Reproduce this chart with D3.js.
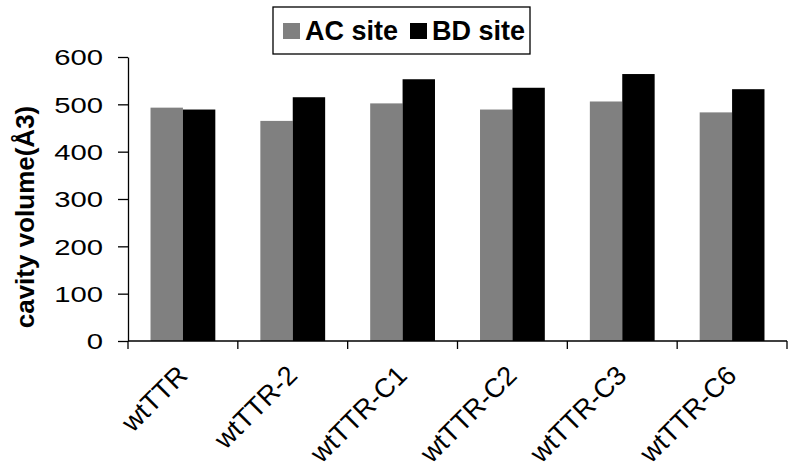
<!DOCTYPE html>
<html>
<head>
<meta charset="utf-8">
<script src="https://cdn.jsdelivr.net/npm/d3@7"></script>
<style>
  body { margin: 0; background: #fff; }
  #chart text { font-family: "Liberation Sans", Arial, sans-serif; fill: #000; }
</style>
</head>
<body>
<div id="chart"></div>
<script>
var categories = ["wtTTR", "wtTTR-2", "wtTTR-C1", "wtTTR-C2", "wtTTR-C3", "wtTTR-C6"];
var seriesNames = ["AC site", "BD site"];
var acSite = [493, 465, 502, 489, 506, 483];
var bdSite = [489, 515, 553, 535, 564, 532];
var yTicks = [0, 100, 200, 300, 400, 500, 600];

var width = 792, height = 473;
var plot = {left: 128, right: 787, top: 57, bottom: 341};

var color = d3.scaleOrdinal().domain(seriesNames).range(["#808080", "#000000"]);

var svg = d3.select("#chart").append("svg")
    .attr("width", width)
    .attr("height", height);

var x0 = d3.scaleBand().domain(categories).range([plot.left, plot.right]).padding(0);
var x1 = d3.scaleBand().domain(seriesNames)
    .range([x0.bandwidth() * 0.205, x0.bandwidth() * 0.795]);
var y = d3.scaleLinear().domain([0, 600]).range([plot.bottom, plot.top]);

var data = categories.map(function(c, i) {
  return {cat: c, values: [{name: "AC site", v: acSite[i]}, {name: "BD site", v: bdSite[i]}]};
});

// bars
var group = svg.selectAll(".grp")
    .data(data)
  .enter().append("g")
    .attr("class", "grp")
    .attr("transform", function(d) { return "translate(" + x0(d.cat) + ",0)"; });

group.selectAll("rect")
    .data(function(d) { return d.values; })
  .enter().append("rect")
    .attr("x", function(d) { return x1(d.name); })
    .attr("y", function(d) { return y(d.v); })
    .attr("width", x1.bandwidth())
    .attr("height", function(d) { return y(0) - y(d.v); })
    .style("fill", function(d) { return color(d.name); });

// y axis
var yAxis = svg.append("g")
    .attr("transform", "translate(" + plot.left + ",0)")
    .call(d3.axisLeft(y).tickValues(yTicks).tickSize(10).tickSizeOuter(0));
yAxis.select(".domain").attr("stroke", "#000").attr("stroke-width", 1.3);
yAxis.selectAll(".tick line").attr("stroke", "#000").attr("stroke-width", 1.3);
yAxis.selectAll(".tick text")
    .attr("x", 0)
    .attr("dy", "0.36em")
    .attr("transform", "translate(-25,0) scale(1.33,1)")
    .style("font-size", "22px");

// x axis, ticks between categories like excel
var xBounds = categories.map(function(c) { return x0(c); }).concat([plot.right]);
var xAxis = svg.append("g").attr("class", "x axis");
xAxis.append("line")
    .attr("x1", plot.left).attr("x2", plot.right)
    .attr("y1", y(0)).attr("y2", y(0))
    .attr("stroke", "#000").attr("stroke-width", 1.3);
xAxis.selectAll(".xt")
    .data(xBounds)
  .enter().append("line")
    .attr("class", "xt")
    .attr("x1", function(d) { return d; }).attr("x2", function(d) { return d; })
    .attr("y1", y(0)).attr("y2", y(0) + 8)
    .attr("stroke", "#000").attr("stroke-width", 1.3);

xAxis.selectAll(".xl")
    .data(categories)
  .enter().append("text")
    .attr("class", "xl")
    .attr("transform", function(d) {
      return "translate(" + (x0(d) + x0.bandwidth() / 2 + 6) + "," + (y(0) + 36) + ") rotate(-45)";
    })
    .style("text-anchor", "end")
    .style("font-size", "27px")
    .text(function(d) { return d; });

// y title
svg.append("text")
    .attr("transform", "translate(34," + ((plot.top + plot.bottom) / 2 + 18) + ") rotate(-90)")
    .style("text-anchor", "middle")
    .style("font-weight", "bold")
    .style("font-size", "26px")
    .text("cavity volume(Å3)");

// legend
var legend = svg.append("g").attr("class", "legend");
legend.append("rect")
    .attr("x", 273).attr("y", 7)
    .attr("width", 257).attr("height", 47)
    .attr("fill", "#fff").attr("stroke", "#000").attr("stroke-width", 1.3);

var legX = [283, 410];
var item = legend.selectAll(".item")
    .data(seriesNames)
  .enter().append("g")
    .attr("class", "item")
    .attr("transform", function(d, i) { return "translate(" + legX[i] + ",0)"; });
item.append("rect")
    .attr("x", 0).attr("y", 23)
    .attr("width", 17).attr("height", 16)
    .style("fill", function(d) { return color(d); });
item.append("text")
    .attr("x", 22).attr("y", 40)
    .style("font-weight", "bold")
    .style("font-size", "27px")
    .text(function(d) { return d; });
</script>
</body>
</html>
